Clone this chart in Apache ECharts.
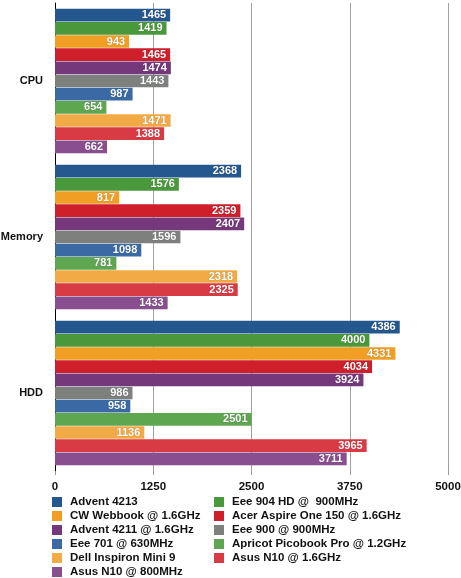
<!DOCTYPE html>
<html>
<head>
<meta charset="utf-8">
<script src="https://cdn.jsdelivr.net/npm/echarts@6/dist/echarts.min.js"></script>
<style>
html,body{margin:0;padding:0;background:#fff;}
#chart{width:461px;height:578px;}
</style>
</head>
<body>
<div id="chart"></div>
<script>
var categories = ['CPU', 'Memory', 'HDD'];
var seriesNames = [
  'Advent 4213',
  'Eee 904 HD @  900MHz',
  'CW Webbook @ 1.6GHz',
  'Acer Aspire One 150 @ 1.6GHz',
  'Advent 4211 @ 1.6GHz',
  'Eee 900 @ 900MHz',
  'Eee 701 @ 630MHz',
  'Apricot Picobook Pro @ 1.2GHz',
  'Dell Inspiron Mini 9',
  'Asus N10 @ 1.6GHz',
  'Asus N10 @ 800MHz'
];
var advent4213 = [1465, 2368, 4386];
var eee904 = [1419, 1576, 4000];
var cwWebbook = [943, 817, 4331];
var acerAspire = [1465, 2359, 4034];
var advent4211 = [1474, 2407, 3924];
var eee900 = [1443, 1596, 986];
var eee701 = [987, 1098, 958];
var apricot = [654, 781, 2501];
var dellMini9 = [1471, 2318, 1136];
var asusN10_16 = [1388, 2325, 3965];
var asusN10_800 = [662, 1433, 3711];
var xTicks = [0, 1250, 2500, 3750, 5000];

var seriesValues = [advent4213, eee904, cwWebbook, acerAspire, advent4211, eee900, eee701, apricot, dellMini9, asusN10_16, asusN10_800];
var colors = ['#25578f', '#4a983c', '#f09f24', '#cf1f2b', '#74387b', '#7e807e', '#3a69a4', '#5ea650', '#f2aa46', '#d93b45', '#894e8e'];

var FONT = '"Liberation Sans Narrow", "Arial Narrow", "Liberation Sans", Arial, sans-serif';

var chart = echarts.init(document.getElementById('chart'), null, {renderer: 'canvas'});
var series = seriesNames.map(function (n, i) {
  return {
    name: n,
    type: 'bar',
    data: seriesValues[i],
    barCategoryGap: '7.5%',
    barGap: '4%',
    itemStyle: {color: colors[i]},
    label: {
      show: true,
      position: 'insideRight',
      distance: 4,
      color: '#fff',
      fontFamily: FONT,
      fontWeight: 'bold',
      fontSize: 11,
      textShadowColor: 'rgba(0,0,0,0.35)',
      textShadowBlur: 1
    }
  };
});
var leftNames = [], rightNames = [];
seriesNames.forEach(function (n, i) { (i % 2 === 0 ? leftNames : rightNames).push(n); });
var legendCommon = {
  orient: 'vertical',
  top: 495,
  height: 95,
  padding: 0,
  itemWidth: 10,
  itemHeight: 10,
  itemGap: 0,
  icon: 'rect',
  selectedMode: false,
  textStyle: {fontFamily: FONT, fontWeight: 'bold', fontSize: 11.5, lineHeight: 14, color: '#111', padding: [0, 0, 0, 3]}
};
chart.setOption({
  animation: false,
  color: colors,
  grid: {left: 55, right: 13, top: 3, bottom: 107, containLabel: false, outerBoundsMode: 'none'},
  legend: [
    Object.assign({}, legendCommon, {left: 52, data: leftNames}),
    Object.assign({}, legendCommon, {left: 214, data: rightNames})
  ],
  xAxis: {
    type: 'value',
    min: xTicks[0],
    max: xTicks[xTicks.length - 1],
    interval: xTicks[1] - xTicks[0],
    axisLine: {show: false},
    axisTick: {show: true, length: 4, lineStyle: {color: '#999'}},
    splitLine: {show: true, lineStyle: {color: '#a0a0a0', width: 1}},
    axisLabel: {fontFamily: FONT, fontWeight: 'bold', fontSize: 11.5, color: '#111', margin: 10,
      formatter: function (v) { return String(v); }}
  },
  yAxis: {
    type: 'category',
    inverse: true,
    data: categories,
    axisLine: {show: true, lineStyle: {color: '#000', width: 1}},
    axisTick: {show: false},
    axisLabel: {fontFamily: FONT, fontWeight: 'bold', fontSize: 11, color: '#111', margin: 12}
  },
  series: series
});
</script>
</body>
</html>
